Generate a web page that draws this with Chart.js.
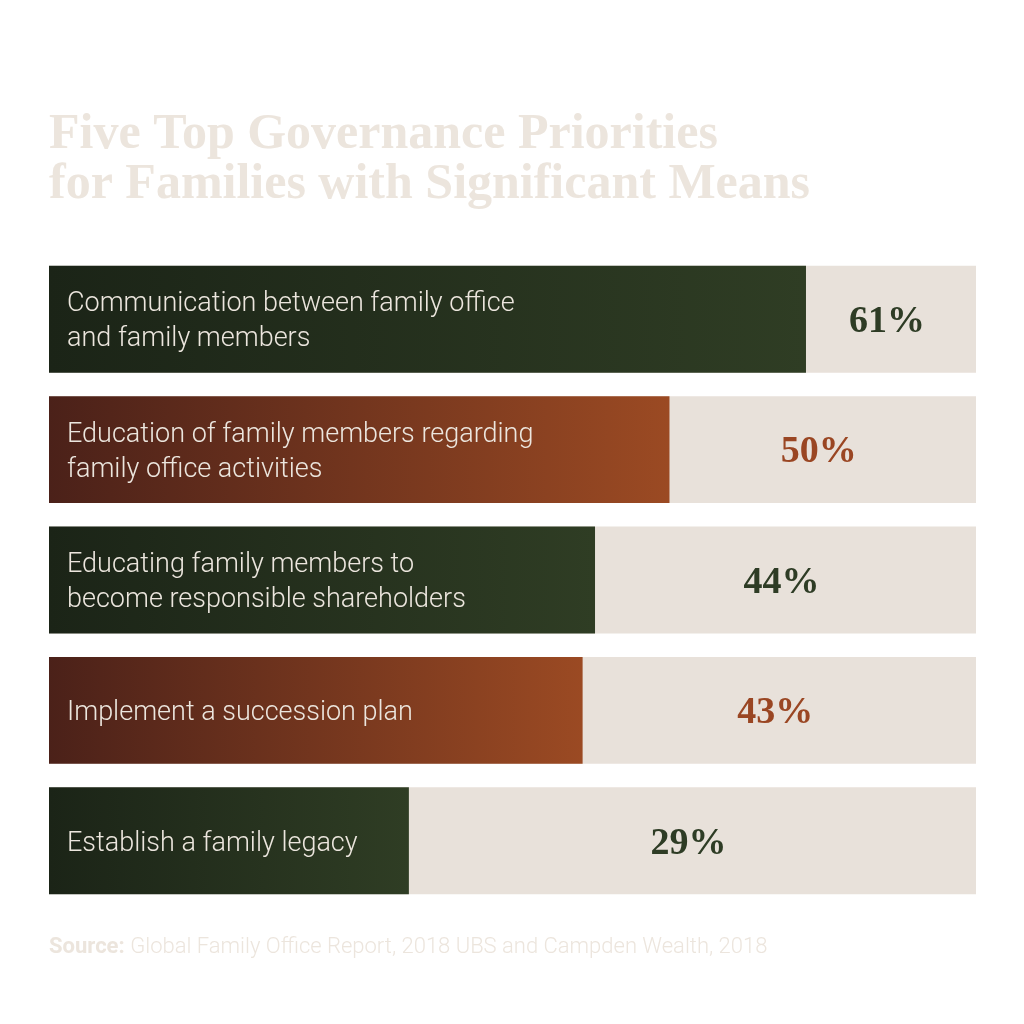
<!DOCTYPE html>
<html>
<head>
<meta charset="utf-8">
<script src="https://cdn.jsdelivr.net/npm/chart.js@4.4.1/dist/chart.umd.min.js"></script>
<style>
  html, body { margin: 0; padding: 0; background: #ffffff; }
  #wrap { width: 1024px; height: 1024px; }
</style>
</head>
<body>
<div id="wrap"><canvas id="govChart"></canvas></div>
<script>
// data
const titleLines = ['Five Top Governance Priorities', 'for Families with Significant Means'];
const categories = [
    ['Communication between family office', 'and family members'],
    ['Education of family members regarding', 'family office activities'],
    ['Educating family members to', 'become responsible shareholders'],
    ['Implement a succession plan'],
    ['Establish a family legacy']
];
const shares = [61, 50, 44, 43, 29];
const trackMax = 74.7;           // the beige track spans the whole axis
const trackValues = [trackMax, trackMax, trackMax, trackMax, trackMax];
const sourceLabel = 'Source:';
const sourceText = 'Global Family Office Report, 2018 UBS and Campden Wealth, 2018';

// colours: green / rust alternate
const palette = [
    { from: '#1b2417', to: '#2f3d24', text: '#2e3c25' },
    { from: '#4b2119', to: '#9b4a23', text: '#9a4623' }
];
const trackColor = '#e8e1da';
const labelColor = '#ece6de';
const paleColor = '#ece5dd';

// gradient along each bar, from axis start to bar end
function barGradient(context) {
    const chart = context.chart;
    const p = palette[context.dataIndex % 2];
    const area = chart.chartArea;
    if (!area) return p.to;
    const xScale = chart.scales.x;
    const x0 = xScale.getPixelForValue(0);
    const x1 = xScale.getPixelForValue(shares[context.dataIndex]);
    const g = chart.ctx.createLinearGradient(x0, 0, x1, 0);
    g.addColorStop(0, p.from);
    g.addColorStop(1, p.to);
    return g;
}

// text inside the bars, the percentages and the source line
const barTextPlugin = {
    id: 'barText',
    afterDatasetsDraw(chart) {
        const ctx = chart.ctx;
        const meta = chart.getDatasetMeta(0);
        const area = chart.chartArea;
        ctx.save();
        meta.data.forEach((bar, i) => {
            const lines = categories[i];
            const lh = 35;
            ctx.fillStyle = labelColor;
            ctx.font = '300 27px Roboto, "Noto Sans", sans-serif';
            ctx.textAlign = 'left';
            ctx.textBaseline = 'middle';
            const y0 = bar.y + 3 - (lines.length - 1) * lh / 2;
            lines.forEach((t, k) => ctx.fillText(t, bar.base + 18, y0 + k * lh));

            ctx.fillStyle = palette[i % 2].text;
            ctx.font = 'bold 38px "Liberation Serif", "DejaVu Serif", serif';
            ctx.textAlign = 'center';
            ctx.fillText(shares[i] + '%', (bar.x + area.right) / 2 - 4, bar.y + 3);
        });

        ctx.textAlign = 'left';
        ctx.textBaseline = 'alphabetic';
        ctx.fillStyle = paleColor;
        ctx.font = 'bold 22px Roboto, "Noto Sans", sans-serif';
        ctx.fillText(sourceLabel, area.left, 953);
        const w = ctx.measureText(sourceLabel + ' ').width;
        ctx.font = '300 22px Roboto, "Noto Sans", sans-serif';
        ctx.fillText(sourceText, area.left + w, 953);
        ctx.restore();
    }
};

const ctx = document.getElementById('govChart').getContext('2d');
new Chart(ctx, {
    type: 'bar',
    data: {
        labels: categories,
        datasets: [
            {
                label: 'Share',
                data: shares,
                backgroundColor: barGradient,
                borderWidth: 0,
                order: 0
            },
            {
                label: 'Track',
                data: trackValues,
                backgroundColor: trackColor,
                borderWidth: 0,
                order: 1
            }
        ]
    },
    options: {
        indexAxis: 'y',
        responsive: true,
        maintainAspectRatio: false,
        animation: false,
        grouped: false,
        categoryPercentage: 1,
        barPercentage: 0.82,
        layout: {
            padding: { top: 0, left: 49, right: 48, bottom: 118 }
        },
        scales: {
            x: { display: false, min: 0, max: trackMax },
            y: { display: false }
        },
        plugins: {
            legend: { display: false },
            tooltip: { enabled: false },
            title: {
                display: true,
                text: titleLines,
                align: 'start',
                color: paleColor,
                font: { family: '"Liberation Serif", "DejaVu Serif", serif', size: 50, weight: 'bold', lineHeight: 1 },
                padding: { top: 110, bottom: 44 }
            }
        }
    },
    plugins: [barTextPlugin]
});
</script>
</body>
</html>
